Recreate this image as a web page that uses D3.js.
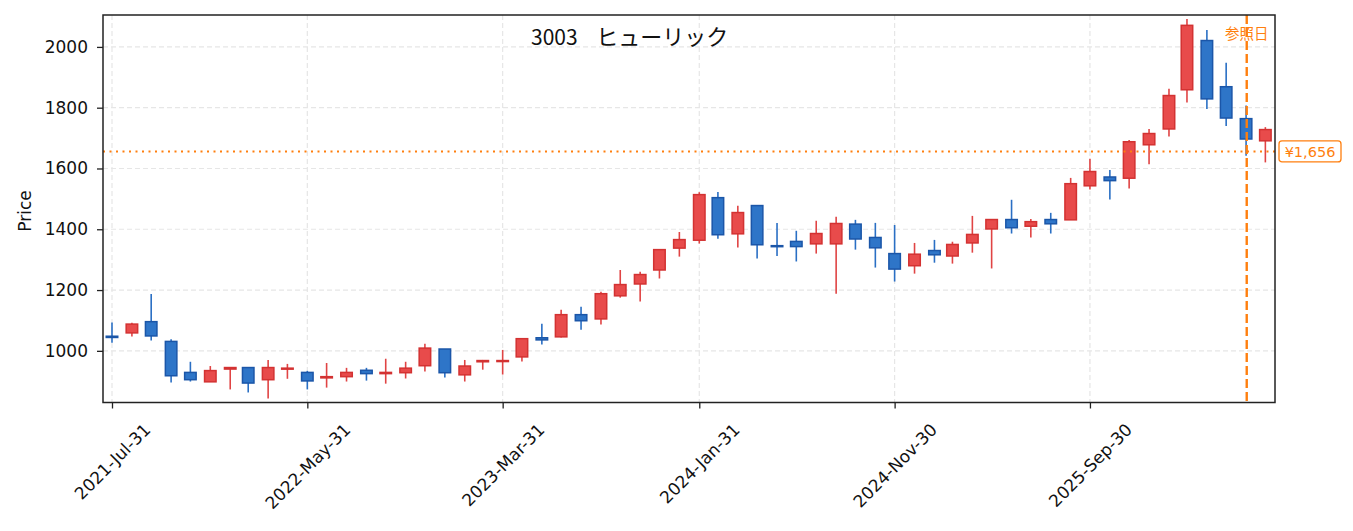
<!DOCTYPE html>
<html>
<head>
<meta charset="utf-8">
<script src="https://cdn.jsdelivr.net/npm/d3@7"></script>
<style>
  body { margin: 0; background: #fff; }
  svg text { font-family: "DejaVu Sans", "Noto Sans CJK JP", sans-serif; }
</style>
</head>
<body>
<div id="chart"></div>
<script>
// Monthly candles, 3003 ヒューリック

const titleCode = "3003";
const titleName = "ヒューリック";
const opens  = [1048,1059,1096,1031, 929, 898, 940, 945, 905, 940, 929, 911, 915, 936, 925, 928, 951,1006, 921, 964,
                 965, 980,1043,1046,1119,1105,1181,1220,1266,1338,1364,1504,1385,1478,1346,1360,1352,1352,1417,1373,
                1320,1280,1330,1312,1355,1401,1432,1410,1432,1431,1543,1572,1568,1678,1730,1859,2021,1869,1764,1691];
const highs  = [1093,1092,1187,1038, 964, 950, 946, 945, 970, 957, 934, 960, 944, 944, 974, 964,1023,1006, 970, 970,
                1003,1040,1089,1135,1145,1194,1266,1260,1335,1391,1522,1523,1477,1478,1421,1395,1428,1441,1431,1421,
                1414,1355,1365,1359,1444,1432,1497,1434,1454,1569,1632,1595,1694,1730,1862,2092,2056,1948,1807,1736];
const lows   = [1027,1047,1034, 896, 899, 898, 873, 863, 843, 908, 873, 879, 899, 902, 892, 909, 932, 912, 899, 938,
                 922, 965,1021,1044,1069,1087,1175,1162,1238,1310,1353,1369,1340,1304,1312,1294,1320,1188,1333,1274,
                1228,1254,1290,1287,1323,1271,1386,1373,1386,1431,1531,1498,1534,1614,1705,1817,1796,1740,1642,1620];
const closes = [1044,1088,1049, 918, 905, 935, 945, 894, 945, 943, 901, 915, 929, 925, 929, 943,1009, 928, 950, 968,
                 968,1040,1036,1119,1099,1188,1218,1251,1333,1366,1514,1382,1455,1349,1343,1343,1386,1419,1368,1339,
                1269,1318,1316,1350,1383,1432,1405,1425,1418,1550,1590,1560,1688,1715,1840,2071,1829,1766,1697,1728];
const yTicks = [1000, 1200, 1400, 1600, 1800, 2000];
const xTickEvery = 10;
const refDate = new Date(2026, 5, 1);
const refLabel = "参照日";
const refPrice = 1656;

// month-end dates for each candle (Jul 2021 onwards)
const dates = opens.map((_, i) => d3.timeDay.offset(d3.timeMonth.offset(new Date(2021, 7, 1), i), -1));
const candles = dates.map((d, i) => ({
  date: d, open: opens[i], high: highs[i], low: lows[i], close: closes[i]
}));

const width = 1353, height = 531;
const margin = { top: 15, right: 78, bottom: 128.5, left: 103 };

const svg = d3.select("#chart").append("svg")
  .attr("width", width)
  .attr("height", height);

const x = d3.scaleTime()
  .domain([new Date(2021, 6, 17), new Date(2026, 6, 15)])
  .range([margin.left, width - margin.right]);

const y = d3.scaleLinear()
  .domain([830, 2105])
  .range([height - margin.bottom, margin.top]);

const plotL = margin.left, plotR = width - margin.right;
const plotT = margin.top, plotB = height - margin.bottom;

const tickDates = dates.filter((d, i) => i % xTickEvery === 0);
const fmt = d3.timeFormat("%Y-%b-%d");

// grid
const grid = svg.append("g");
grid.selectAll("line.hg").data(yTicks).enter().append("line")
  .attr("x1", plotL).attr("x2", plotR)
  .attr("y1", d => y(d)).attr("y2", d => y(d))
  .attr("stroke", "#e6e6e6").attr("stroke-width", 1.2)
  .attr("stroke-dasharray", "5,3");
grid.selectAll("line.vg").data(tickDates).enter().append("line")
  .attr("x1", d => x(d)).attr("x2", d => x(d))
  .attr("y1", plotT).attr("y2", plotB)
  .attr("stroke", "#e6e6e6").attr("stroke-width", 1.2)
  .attr("stroke-dasharray", "5,3");

// candles
const up = { fill: "#e84b4b", stroke: "#d33232", wick: "#e04444" };
const down = { fill: "#2e75c8", stroke: "#1b56a8", wick: "#2a6fc4" };
const bodyW = 11.5;

const cg = svg.append("g").selectAll("g").data(candles).enter().append("g");
cg.append("line")
  .attr("x1", d => x(d.date)).attr("x2", d => x(d.date))
  .attr("y1", d => y(d.high)).attr("y2", d => y(d.low))
  .attr("stroke", d => d.close >= d.open ? up.wick : down.wick)
  .attr("stroke-width", 1.6);
cg.append("rect")
  .attr("x", d => x(d.date) - bodyW / 2)
  .attr("width", bodyW)
  .attr("y", d => y(Math.max(d.open, d.close)))
  .attr("height", d => Math.max(1, Math.abs(y(d.open) - y(d.close))))
  .attr("fill", d => d.close >= d.open ? up.fill : down.fill)
  .attr("stroke", d => d.close >= d.open ? up.stroke : down.stroke)
  .attr("stroke-width", 1.5);

// reference price (dotted) and reference date (dashed)
svg.append("line")
  .attr("x1", plotL).attr("x2", plotR)
  .attr("y1", y(refPrice)).attr("y2", y(refPrice))
  .attr("stroke", "#ff7f0e").attr("stroke-width", 2)
  .attr("stroke-dasharray", "2,4.5");
svg.append("line")
  .attr("x1", x(refDate)).attr("x2", x(refDate))
  .attr("y1", plotT).attr("y2", plotB)
  .attr("stroke", "#ff7f0e").attr("stroke-width", 2.4)
  .attr("stroke-dasharray", "9,4");
svg.append("text")
  .attr("x", x(refDate)).attr("y", 39)
  .attr("text-anchor", "middle")
  .attr("fill", "#ff7f0e")
  .style("font-family", "'Noto Sans CJK JP', sans-serif")
  .style("font-size", "14.5px")
  .text(refLabel);

// price tag outside the axes
const tag = svg.append("g").attr("transform", `translate(${plotR + 4},${y(refPrice)})`);
tag.append("rect")
  .attr("x", 0).attr("y", -10.5)
  .attr("width", 62).attr("height", 21)
  .attr("rx", 3)
  .attr("fill", "#fff")
  .attr("stroke", "#ff7f0e").attr("stroke-width", 1.3);
tag.append("text")
  .attr("x", 31).attr("y", 0)
  .attr("dy", "0.35em")
  .attr("text-anchor", "middle")
  .attr("fill", "#ff7f0e")
  .style("font-size", "14.5px")
  .text("¥" + d3.format(",")(refPrice));

// axes frame
svg.append("rect")
  .attr("x", plotL).attr("y", plotT)
  .attr("width", plotR - plotL).attr("height", plotB - plotT)
  .attr("fill", "none")
  .attr("stroke", "#222").attr("stroke-width", 1.5);

// y axis
const yAxisG = svg.append("g").attr("transform", `translate(${plotL},0)`)
  .call(d3.axisLeft(y).tickValues(yTicks).tickSize(6).tickPadding(9).tickFormat(d3.format("d")));
yAxisG.select(".domain").remove();
yAxisG.selectAll(".tick line").attr("stroke", "#222").attr("stroke-width", 1.3);
yAxisG.selectAll(".tick text")
  .attr("fill", "#111")
  .style("font-size", "17px")
  .style("font-family", "'DejaVu Sans', sans-serif");

svg.append("text")
  .attr("transform", `translate(31,211) rotate(-90)`)
  .attr("text-anchor", "middle")
  .attr("fill", "#111")
  .style("font-size", "17px")
  .text("Price");

// x axis
const xAxisG = svg.append("g").attr("transform", `translate(0,${plotB})`)
  .call(d3.axisBottom(x).tickValues(tickDates).tickSize(6).tickFormat(fmt));
xAxisG.select(".domain").remove();
xAxisG.selectAll(".tick line").attr("stroke", "#222").attr("stroke-width", 1.3);
xAxisG.selectAll(".tick text")
  .attr("fill", "#111")
  .style("font-size", "17px")
  .style("font-family", "'DejaVu Sans', sans-serif")
  .attr("text-anchor", "middle")
  .attr("y", 0)
  .attr("dy", "0.35em")
  .each(function () {
    const w = this.getComputedTextLength();
    const h = 12;
    const half = (w + h) * Math.SQRT1_2 / 2;
    // rotated label box is centred under its tick, top ~20px below the axis
    d3.select(this).attr("transform", `translate(0,${20 + half}) rotate(-45)`);
  });

// title
const t = svg.append("text")
  .attr("x", 531).attr("y", 45)
  .attr("text-anchor", "start")
  .attr("fill", "#111")
  .style("font-family", "'Noto Sans CJK JP', sans-serif")
  .style("font-size", "21px");
t.append("tspan").text(titleCode + " ");
t.append("tspan").attr("dx", 14).style("font-size", "22px").text(titleName);
</script>
</body>
</html>
